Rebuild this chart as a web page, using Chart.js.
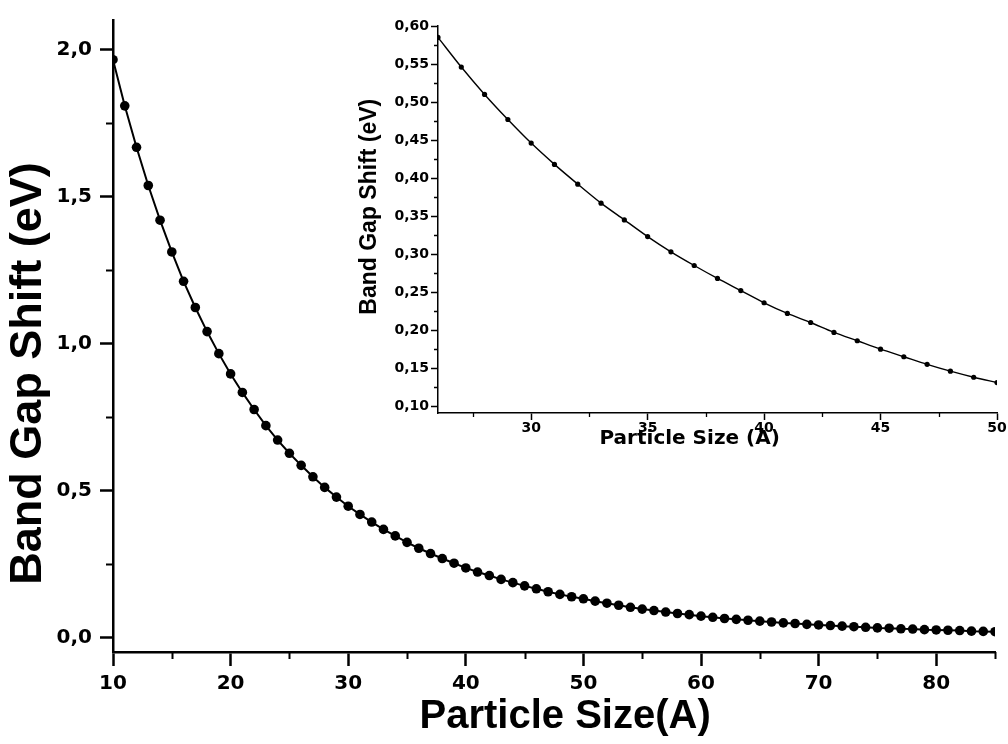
<!DOCTYPE html>
<html>
<head>
<meta charset="utf-8">
<script src="https://cdn.jsdelivr.net/npm/chart.js@4.4.1/dist/chart.umd.min.js"></script>
<style>
  html, body { margin: 0; padding: 0; background: #fff; }
  #wrap { position: relative; width: 1008px; height: 744px; }
  #main { position: absolute; left: 0; top: 0; }
  #inset { position: absolute; left: 340px; top: 0; }
</style>
</head>
<body>
<div id="wrap">
  <canvas id="main" width="1008" height="744"></canvas>
  <canvas id="inset" width="668" height="460"></canvas>
</div>
<script>
// particle size (A) and band gap shift (eV)
const mainSizes = [10,11,12,13,14,15,16,17,18,19,20,21,22,23,24,25,26,27,28,29,30,31,32,33,34,35,36,37,38,39,40,41,42,43,44,45,46,47,48,49,50,51,52,53,54,55,56,57,58,59,60,61,62,63,64,65,66,67,68,69,70,71,72,73,74,75,76,77,78,79,80,81,82,83,84,85];
const mainShift = [1.965,1.808,1.667,1.537,1.419,1.311,1.211,1.122,1.040,0.965,0.896,0.833,0.775,0.720,0.671,0.626,
  0.585,0.546,0.510,0.477,0.446,0.418,0.392,0.367,0.345,0.323,0.303,0.285,0.268,0.252,0.236,0.222,0.210,0.197,0.186,0.175,0.165,0.155,0.146,0.138,0.131,
  0.123,0.116,0.109,0.102,0.096,0.091,0.086,0.081,0.077,0.072,0.068,0.064,0.061,0.058,0.055,0.052,
  0.049,0.047,0.044,0.042,0.040,0.038,0.036,0.034,0.032,0.031,0.029,0.028,0.026,0.025,0.024,0.023,0.021,0.020,0.019];

const insetSizes = [26,27,28,29,30,31,32,33,34,35,36,37,38,39,40,41,42,43,44,45,46,47,48,49,50];
const insetShift = [0.585,0.546,0.510,0.477,0.446,0.418,0.392,0.367,0.345,0.323,0.303,0.285,0.268,0.252,0.236,0.222,0.210,0.197,0.186,0.175,0.165,0.155,0.146,0.138,0.131];

// tick positions
const mainXTicks = [10,20,30,40,50,60,70,80];
const mainXMinor = [15,25,35,45,55,65,75,85];
const mainYTicks = [0,0.5,1,1.5,2];
const mainYMinor = [0.25,0.75,1.25,1.75];
const insetXTicks = [30,35,40,45,50];
const insetXMinor = [27.5,32.5,37.5,42.5,47.5];
const insetYTicks = [0.10,0.15,0.20,0.25,0.30,0.35,0.40,0.45,0.50,0.55,0.60];
const insetYMinor = [0.125,0.175,0.225,0.275,0.325,0.375,0.425,0.475,0.525,0.575];

const NARROW = "'Liberation Sans', Arial, sans-serif";
const WIDE = "'DejaVu Sans', sans-serif";
const comma = (v, d) => v.toFixed(d).replace('.', ',');
const sp = n => '\u00a0'.repeat(n);

// short outward ticks between the labelled ones
const minorTicks = {
  id: 'minorTicks',
  afterDraw(chart, args, opts) {
    const ctx = chart.ctx;
    ctx.save();
    ctx.strokeStyle = '#000';
    ctx.lineWidth = opts.width;
    const xs = chart.scales.x, ys = chart.scales.y;
    ctx.beginPath();
    opts.x.forEach(v => {
      const px = Math.round(xs.getPixelForValue(v)) + 0.5;
      ctx.moveTo(px, xs.top);
      ctx.lineTo(px, xs.top + opts.length);
    });
    opts.y.forEach(v => {
      const py = Math.round(ys.getPixelForValue(v)) + 0.5;
      ctx.moveTo(ys.right, py);
      ctx.lineTo(ys.right - opts.length, py);
    });
    ctx.stroke();
    ctx.restore();
  }
};

function axis(o) {
  return {
    type: 'linear',
    min: o.min,
    max: o.max,
    afterBuildTicks: s => { s.ticks = o.ticks.map(v => ({ value: v })); },
    afterFit: s => { if (s.isHorizontal()) s.height = o.size; else s.width = o.size; },
    border: { display: true, color: '#000', width: o.lineW },
    grid: { drawOnChartArea: false, drawTicks: true, tickLength: o.tickLen, tickWidth: o.lineW, color: '#000' },
    ticks: {
      color: '#000',
      padding: o.tickPad,
      maxRotation: 0,
      autoSkip: false,
      font: { family: WIDE, size: o.fontSize, weight: 'bold' },
      callback: o.fmt
    },
    title: {
      display: true,
      text: o.title,
      color: '#000',
      font: { family: o.titleFamily, size: o.titleSize, weight: 'bold' },
      padding: o.titlePad
    }
  };
}

new Chart(document.getElementById('main'), {
  type: 'line',
  data: {
    datasets: [{
      data: mainSizes.map((s, i) => ({ x: s, y: mainShift[i] })),
      borderColor: '#000',
      borderWidth: 2,
      backgroundColor: '#000',
      pointRadius: 4.8,
      pointBorderWidth: 0,
      pointBackgroundColor: '#000',
      tension: 0,
      clip: 0
    }]
  },
  options: {
    responsive: false,
    animation: false,
    layout: { padding: { top: 7, right: 13, left: 0, bottom: 0 } },
    plugins: {
      legend: { display: false },
      tooltip: { enabled: false },
      minorTicks: { x: mainXMinor, y: mainYMinor, length: 7, width: 2 }
    },
    scales: {
      x: axis({ ticks: mainXTicks, min: 10, max: 85, fmt: v => String(v), fontSize: 20,
        tickLen: 14, tickPad: 6, lineW: 2.5, size: 92,
        title: sp(2) + 'Particle Size(A)', titleFamily: NARROW, titleSize: 40, titlePad: { top: 0, bottom: 3 } }),
      y: axis({ ticks: mainYTicks, min: -0.05, max: 2.1, fmt: v => comma(v, 1), fontSize: 20,
        tickLen: 13, tickPad: 8, lineW: 2.5, size: 113,
        title: 'Band Gap Shift (eV)' + sp(6), titleFamily: NARROW, titleSize: 45, titlePad: { top: 2, bottom: 0 } })
    }
  },
  plugins: [minorTicks]
});

new Chart(document.getElementById('inset'), {
  type: 'line',
  data: {
    datasets: [{
      data: insetSizes.map((s, i) => ({ x: s, y: insetShift[i] })),
      borderColor: '#000',
      borderWidth: 1.4,
      backgroundColor: '#000',
      pointRadius: 2.6,
      pointBorderWidth: 0,
      pointBackgroundColor: '#000',
      tension: 0.3,
      clip: 0
    }]
  },
  options: {
    responsive: false,
    animation: false,
    layout: { padding: { top: 26, right: 11, left: 0, bottom: 0 } },
    plugins: {
      legend: { display: false },
      tooltip: { enabled: false },
      minorTicks: { x: insetXMinor, y: insetYMinor, length: 4, width: 1.3 }
    },
    scales: {
      x: axis({ ticks: insetXTicks, min: 26, max: 50, fmt: v => String(v), fontSize: 14,
        tickLen: 7, tickPad: 0, lineW: 1.5, size: 47,
        title: 'Particle Size (A)' + sp(8), titleFamily: WIDE, titleSize: 20, titlePad: { top: 0, bottom: 9 } }),
      y: axis({ ticks: insetYTicks, min: 0.091, max: 0.6, fmt: v => comma(v, 2), fontSize: 14,
        tickLen: 7, tickPad: 2, lineW: 1.5, size: 98,
        title: sp(4) + 'Band Gap Shift (eV)', titleFamily: NARROW, titleSize: 23, titlePad: { top: 16, bottom: 0 } })
    }
  },
  plugins: [minorTicks]
});
</script>
</body>
</html>
